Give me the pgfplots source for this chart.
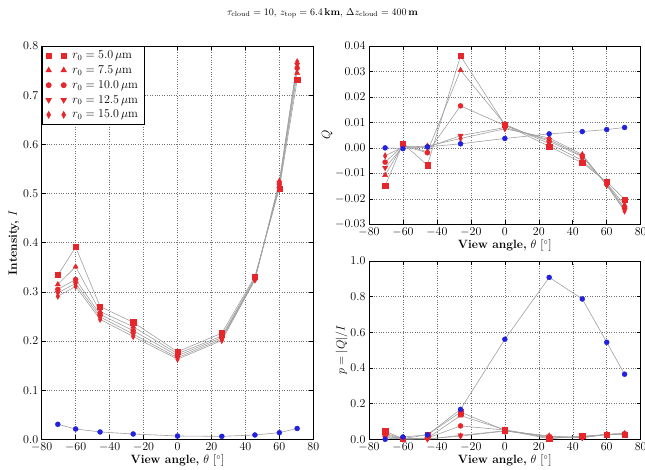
\documentclass[border=0pt]{standalone}
\usepackage{pgfplots}
\usepackage{pgfplotstable}
\pgfplotsset{compat=1.18}
\usetikzlibrary{plotmarks}
\definecolor{myred}{RGB}{230,38,42}
\definecolor{myblue}{RGB}{34,34,222}
\definecolor{lgray}{RGB}{160,160,160}

\pgfplotstableread{
x     I1    I2    I3    I4    I5    Ib
-70.5 0.334 0.315 0.305 0.298 0.291 0.0305
-60.0 0.391 0.351 0.325 0.317 0.311 0.0210
-45.6 0.270 0.260 0.254 0.249 0.244 0.0149
-26.1 0.238 0.229 0.221 0.214 0.209 0.0108
0.0   0.178 0.174 0.170 0.166 0.163 0.0067
26.1  0.216 0.210 0.207 0.204 0.201 0.0060
45.6  0.331 0.328 0.326 0.325 0.324 0.0088
60.0  0.510 0.515 0.519 0.522 0.525 0.0135
70.5  0.731 0.745 0.755 0.762 0.768 0.0220
}\tabI

\pgfplotstableread{
x     Q1      Q2      Q3      Q4      Q5      Qb
-70.5 -0.0150 -0.0107 -0.0056 -0.0078 -0.0031 0.0000
-60.0  0.0017  0.0012  0.0008  0.0005  0.0003 -0.0003
-45.6 -0.0068 -0.0015 -0.0019  0.0002  0.0007 0.0004
-26.1  0.0361  0.0305  0.0165  0.0048  0.0037 0.0016
0.0    0.0091  0.0093  0.0088  0.0080  0.0075 0.0037
26.1   0.0006  0.0017  0.0026  0.0032  0.0039 0.0055
45.6  -0.0059 -0.0049 -0.0035 -0.0031 -0.0026 0.0064
60.0  -0.0133 -0.0139 -0.0142 -0.0145 -0.0147 0.0072
70.5  -0.0202 -0.0224 -0.0236 -0.0242 -0.0248 0.0080
}\tabQ

\pgfplotstableread{
x     p1    p2    p3    p4    p5    pb
-70.5 0.045 0.034 0.018 0.026 0.011 0.000
-60.0 0.004 0.003 0.002 0.002 0.001 0.013
-45.6 0.025 0.006 0.007 0.001 0.003 0.025
-26.1 0.152 0.133 0.075 0.022 0.018 0.168
0.0   0.051 0.053 0.052 0.048 0.046 0.561
26.1  0.003 0.008 0.013 0.016 0.019 0.908
45.6  0.018 0.015 0.011 0.010 0.008 0.787
60.0  0.026 0.027 0.027 0.028 0.028 0.544
70.5  0.028 0.030 0.031 0.032 0.032 0.365
}\tabP

\pgfplotsset{
  base/.style={
    scale only axis,
    xmin=-80, xmax=80,
    xtick={-80,-60,...,80},
    grid=major,
    grid style={dotted, black!55, line width=0.5pt},
    tick align=inside,
    tick pos=both,
    major tick length=4pt,
    tick style={black, line width=0.6pt},
    axis line style={line width=0.8pt},
    tick label style={font=\large},
    label style={font=\large},
    xlabel={\textbf{View angle,} $\theta$ [$^\circ$]},
    xlabel style={yshift=4pt},
    clip=false,
  },
  ln/.style={lgray, line width=0.6pt, mark=none, forget plot},
  rm/.style={only marks, mark size=2.7pt, mark options={draw=myred, fill=myred, solid}},
  bm/.style={only marks, mark=*, mark size=2.5pt, mark options={draw=myblue, fill=myblue}, forget plot},
  m1/.style={rm, mark=square*, mark size=2.6pt},
  m2/.style={rm, mark=triangle*, mark size=3.0pt},
  m3/.style={rm, mark=*, mark size=2.5pt},
  m4/.style={rm, mark=triangle*, mark size=3.0pt, mark options={draw=myred, fill=myred, rotate=180}},
  m5/.style={rm, mark=diamond*, mark size=3.2pt, mark options={draw=myred, fill=myred, xscale=0.75}},
}

\begin{document}
\begin{tikzpicture}[x=1pt,y=1pt]
\useasboundingbox (0,0) rectangle (645,470);
\node at (322.5,457) {$\tau_{\mathrm{cloud}} = 10$, $z_{\mathrm{top}} = 6.4\,\mathbf{km}$, $\Delta z_{\mathrm{cloud}} = 400\,\mathbf{m}$};

% Left: Intensity
\begin{axis}[base, at={(41.7pt,30.7pt)}, anchor=south west,
  width=271.6pt, height=393.3pt,
  ymin=0, ymax=0.8, ytick={0,0.1,...,0.8},
  yticklabel style={/pgf/number format/.cd, fixed, fixed zerofill, precision=1},
  ylabel={\textbf{Intensity,} $I$},
  ylabel style={yshift=-3pt},
  legend cell align=left,
  legend style={draw=black, line width=0.8pt, fill=white, inner xsep=4pt, inner ysep=2.5pt, row sep=1.6pt, column sep=4pt, font=\large, at={(0,1)}, anchor=north west},
  legend image code/.code={\path[#1] plot coordinates {(1pt,0pt) (16pt,0pt)};},
]
\addplot[ln] table[x=x,y=I1] {\tabI};
\addplot[ln] table[x=x,y=I2] {\tabI};
\addplot[ln] table[x=x,y=I3] {\tabI};
\addplot[ln] table[x=x,y=I4] {\tabI};
\addplot[ln] table[x=x,y=I5] {\tabI};
\addplot[ln] table[x=x,y=Ib] {\tabI};
\addplot[m1] table[x=x,y=I1] {\tabI};
\addplot[m2] table[x=x,y=I2] {\tabI};
\addplot[m3] table[x=x,y=I3] {\tabI};
\addplot[m4] table[x=x,y=I4] {\tabI};
\addplot[m5] table[x=x,y=I5] {\tabI};
\addplot[bm] table[x=x,y=Ib] {\tabI};
\legend{$r_0 = 5.0\,\mu\mathrm{m}$, $r_0 = 7.5\,\mu\mathrm{m}$, $r_0 = 10.0\,\mu\mathrm{m}$, $r_0 = 12.5\,\mu\mathrm{m}$, $r_0 = 15.0\,\mu\mathrm{m}$}
\end{axis}

% Top right: Q
\begin{axis}[base, at={(369pt,245.7pt)}, anchor=south west,
  width=271.7pt, height=178.3pt,
  ymin=-0.03, ymax=0.04, ytick={-0.03,-0.02,...,0.04},
  yticklabel style={/pgf/number format/.cd, fixed, fixed zerofill, precision=2},
  scaled y ticks=false,
  ylabel={$Q$},
  ylabel style={yshift=-4pt},
]
\addplot[ln] table[x=x,y=Q1] {\tabQ};
\addplot[ln] table[x=x,y=Q2] {\tabQ};
\addplot[ln] table[x=x,y=Q3] {\tabQ};
\addplot[ln] table[x=x,y=Q4] {\tabQ};
\addplot[ln] table[x=x,y=Q5] {\tabQ};
\addplot[ln] table[x=x,y=Qb] {\tabQ};
\addplot[m1] table[x=x,y=Q1] {\tabQ};
\addplot[m2] table[x=x,y=Q2] {\tabQ};
\addplot[m3] table[x=x,y=Q3] {\tabQ};
\addplot[m4] table[x=x,y=Q4] {\tabQ};
\addplot[m5] table[x=x,y=Q5] {\tabQ};
\addplot[bm] table[x=x,y=Qb] {\tabQ};
\end{axis}

% Bottom right: p
\begin{axis}[base, at={(369pt,30.7pt)}, anchor=south west,
  width=271.7pt, height=178.3pt,
  ymin=0, ymax=1.0, ytick={0,0.2,...,1.0},
  yticklabel style={/pgf/number format/.cd, fixed, fixed zerofill, precision=1},
  ylabel={$p = |Q|/I$},
  ylabel style={yshift=-4pt},
]
\addplot[ln] table[x=x,y=p1] {\tabP};
\addplot[ln] table[x=x,y=p2] {\tabP};
\addplot[ln] table[x=x,y=p3] {\tabP};
\addplot[ln] table[x=x,y=p4] {\tabP};
\addplot[ln] table[x=x,y=p5] {\tabP};
\addplot[ln] table[x=x,y=pb] {\tabP};
\addplot[m1] table[x=x,y=p1] {\tabP};
\addplot[m2] table[x=x,y=p2] {\tabP};
\addplot[m3] table[x=x,y=p3] {\tabP};
\addplot[m4] table[x=x,y=p4] {\tabP};
\addplot[m5] table[x=x,y=p5] {\tabP};
\addplot[bm] table[x=x,y=pb] {\tabP};
\end{axis}
\end{tikzpicture}
\end{document}
